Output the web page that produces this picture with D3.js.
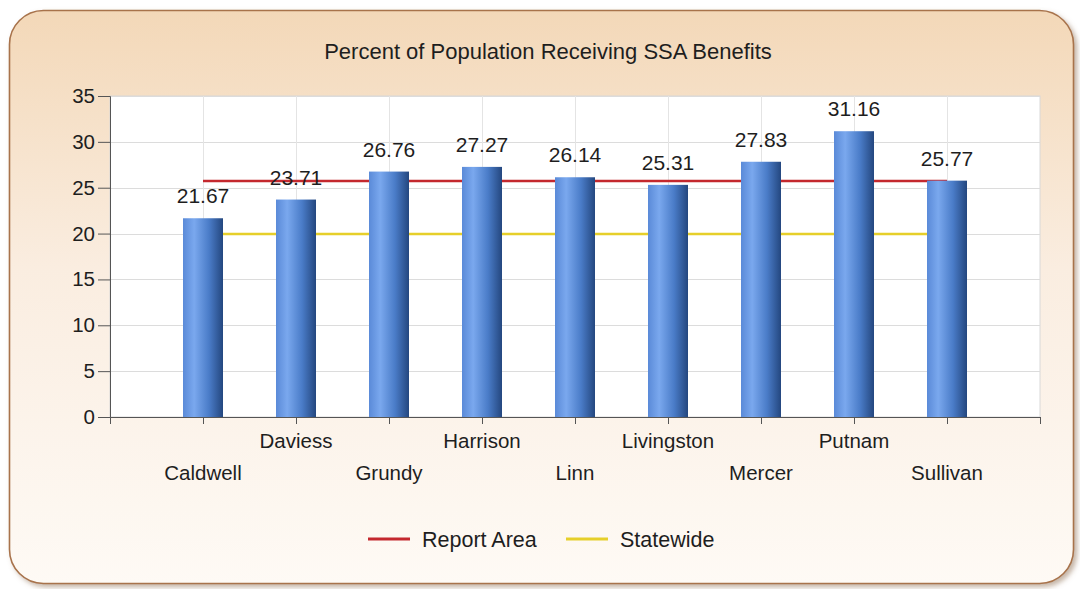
<!DOCTYPE html>
<html><head><meta charset="utf-8">
<script src="https://cdn.jsdelivr.net/npm/d3@7"></script>
<style>body{margin:0;background:#fff;}svg{display:block;font-family:"Liberation Sans",Arial,sans-serif;}</style>
</head><body><svg id="c" width="1080" height="589"></svg>
<script>
const categories = ["Caldwell","Daviess","Grundy","Harrison","Linn","Livingston","Mercer","Putnam","Sullivan"];
const values = [21.67,23.71,26.76,27.27,26.14,25.31,27.83,31.16,25.77];
const reportArea = [25.72,25.72,25.72,25.72,25.72,25.72,25.72,25.72,25.72];
const statewide = [19.95,19.95,19.95,19.95,19.95,19.95,19.95,19.95,19.95];
const yTicks = [0,5,10,15,20,25,30,35];
const title = "Percent of Population Receiving SSA Benefits";
const legendItems = [{name:"Report Area",color:"#c4282e"},{name:"Statewide",color:"#e6cf2a"}];

const svg = d3.select("#c");
const defs = svg.append("defs");
const bg = defs.append("linearGradient").attr("id","bg").attr("x1",0).attr("y1",0).attr("x2",0).attr("y2",1);
bg.append("stop").attr("offset","0%").attr("stop-color","#f3d8b8");
bg.append("stop").attr("offset","45%").attr("stop-color","#faede0");
bg.append("stop").attr("offset","100%").attr("stop-color","#fefaf5");
const bar = defs.append("linearGradient").attr("id","bar").attr("x1",0).attr("y1",0).attr("x2",1).attr("y2",0);
bar.append("stop").attr("offset","0%").attr("stop-color","#5a8ad8");
bar.append("stop").attr("offset","28%").attr("stop-color","#7aa8ee");
bar.append("stop").attr("offset","65%").attr("stop-color","#4a7cc8");
bar.append("stop").attr("offset","100%").attr("stop-color","#24477f");
const sh = defs.append("filter").attr("id","sh").attr("x","-5%").attr("y","-5%").attr("width","112%").attr("height","112%");
sh.append("feDropShadow").attr("dx",3).attr("dy",3).attr("stdDeviation",2.5).attr("flood-color","#8a6a50").attr("flood-opacity",0.5);

svg.append("rect").attr("x",9.5).attr("y",10.5).attr("width",1064).attr("height",573).attr("rx",34)
  .attr("fill","url(#bg)").attr("stroke","#a8734c").attr("stroke-width",1.6).attr("filter","url(#sh)");

const L=110, R=1040, T=96, B=417;
const x = d3.scaleLinear().domain([0,categories.length+1]).range([L,R]);
const y = d3.scaleLinear().domain([0,35]).range([B,T]);

svg.append("rect").attr("x",L).attr("y",T).attr("width",R-L).attr("height",B-T).attr("fill","#fff").attr("stroke","#d8d8d8");

// grid
svg.append("g").selectAll("line").data(yTicks.slice(1)).join("line")
  .attr("x1",L).attr("x2",R).attr("y1",d=>Math.round(y(d))+0.5).attr("y2",d=>Math.round(y(d))+0.5)
  .attr("stroke","#dcdcdc");
svg.append("g").selectAll("line").data(d3.range(1,categories.length+1)).join("line")
  .attr("x1",d=>Math.round(x(d))+0.5).attr("x2",d=>Math.round(x(d))+0.5).attr("y1",T).attr("y2",B)
  .attr("stroke","#e4e4e4");

// lines
const line = d3.line().x((d,i)=>x(i+1)).y(d=>y(d));
svg.append("path").datum(reportArea).attr("d",line).attr("fill","none").attr("stroke",legendItems[0].color).attr("stroke-width",2.5);
svg.append("path").datum(statewide).attr("d",line).attr("fill","none").attr("stroke",legendItems[1].color).attr("stroke-width",2.5);

// bars
const bw=40;
svg.append("g").selectAll("rect").data(values).join("rect")
  .attr("x",(d,i)=>x(i+1)-bw/2).attr("width",bw)
  .attr("y",d=>y(d)).attr("height",d=>y(0)-y(d)).attr("fill","url(#bar)");

// value labels
svg.append("g").selectAll("text").data(values).join("text")
  .attr("x",(d,i)=>x(i+1)).attr("y",d=>y(d)-15).attr("text-anchor","middle")
  .attr("font-size",21).attr("fill","#1e1e1e").text(d=>d.toFixed(2));

// axes
const yAxis = d3.axisLeft(y).tickValues(yTicks).tickSize(12).tickPadding(3);
const gy = svg.append("g").attr("transform",`translate(${L},0)`).call(yAxis);
gy.select(".domain").attr("stroke","#555");
gy.selectAll(".tick line").attr("stroke","#555");
gy.selectAll("text").attr("font-size",20.5).attr("fill","#1e1e1e").attr("font-family","Liberation Sans, Arial, sans-serif");

const xAxis = d3.axisBottom(x).tickValues(d3.range(1,categories.length+2)).tickSize(7).tickFormat(()=> "");
const gx = svg.append("g").attr("transform",`translate(0,${B})`).call(xAxis);
gx.select(".domain").attr("stroke","#555");
gx.selectAll(".tick line").attr("stroke","#555");
svg.append("g").selectAll("text").data(categories).join("text")
  .attr("x",(d,i)=>x(i+1)).attr("y",(d,i)=> i%2===0 ? 480 : 448)
  .attr("text-anchor","middle").attr("font-size",20.5).attr("fill","#1e1e1e").text(d=>d);

// title
svg.append("text").attr("x",548).attr("y",59).attr("text-anchor","middle").attr("font-size",22).attr("fill","#1e1e1e").text(title);

// legend
const lx=[368,566];
legendItems.forEach((it,i)=>{
  svg.append("line").attr("x1",lx[i]).attr("x2",lx[i]+42).attr("y1",539).attr("y2",539).attr("stroke",it.color).attr("stroke-width",3);
  svg.append("text").attr("x",lx[i]+54).attr("y",547).attr("font-size",21.5).attr("fill","#1e1e1e").text(it.name);
});
</script></body></html>
